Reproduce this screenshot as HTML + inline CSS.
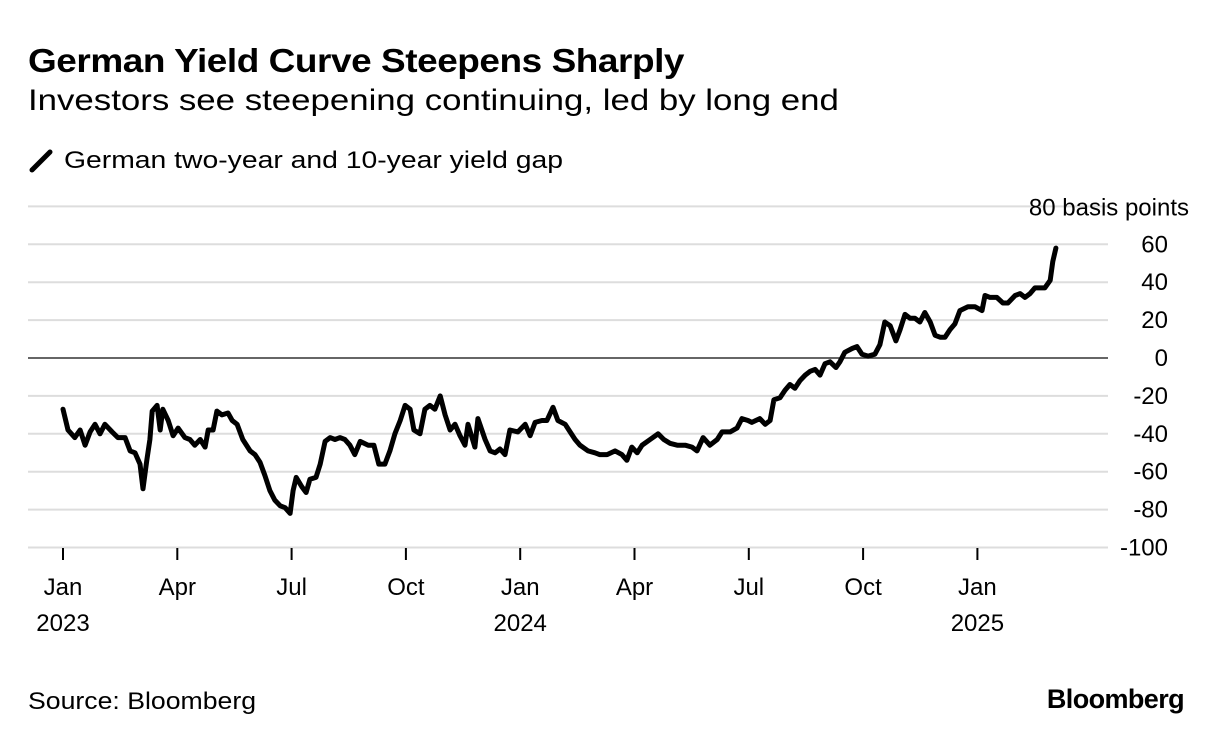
<!DOCTYPE html>
<html><head><meta charset="utf-8"><style>
body{margin:0;background:#fff;font-family:"Liberation Sans",Arial,sans-serif;color:#000}
#w{position:relative;width:1223px;height:744px;overflow:hidden}
.t{position:absolute;white-space:nowrap;transform-origin:0 0}
</style></head><body><div id="w">
<div class="t" style="left:28px;top:42px;font-size:33px;font-weight:bold;letter-spacing:-0.4px;transform:scaleX(1.12)">German Yield Curve Steepens Sharply</div>
<div class="t" style="left:28px;top:84px;font-size:29.5px;transform:scaleX(1.18)">Investors see steepening continuing, led by long end</div>
<div class="t" style="left:28px;top:148px"><svg width="26" height="26"><line x1="4" y1="22" x2="22" y2="4" stroke="#000" stroke-width="5" stroke-linecap="round"/></svg></div>
<div class="t" style="left:64px;top:147px;font-size:24px;transform:scaleX(1.18)">German two-year and 10-year yield gap</div>
<svg id="c" width="1223" height="744" style="position:absolute;left:0;top:0"></svg>
<div class="t" style="left:28px;top:688px;font-size:24px;transform:scaleX(1.11)">Source: Bloomberg</div>
<div class="t" style="right:39px;top:684px;font-size:27px;font-weight:bold;letter-spacing:-0.6px">Bloomberg</div>
</div>
<script>
const yTicks=[80,60,40,20,0,-20,-40,-60,-80,-100];
const xTickMonths=[0,3,6,9,12,15,18,21,24];
const xTickLabels=["Jan","Apr","Jul","Oct","Jan","Apr","Jul","Oct","Jan"];
const xYearLabels={0:"2023",12:"2024",24:"2025"};
const months=[0,.13,.31,.45,.58,.71,.84,.97,1.10,1.29,1.44,1.63,1.76,1.89,2.02,2.10,2.20,2.28,2.34,2.47,2.55,2.62,2.76,2.89,3.02,3.20,3.33,3.46,3.60,3.73,3.81,3.94,4.04,4.17,4.33,4.44,4.57,4.72,4.91,5.04,5.17,5.30,5.43,5.56,5.70,5.83,5.96,6.04,6.12,6.27,6.38,6.48,6.64,6.75,6.88,7.01,7.14,7.27,7.40,7.53,7.66,7.80,8.01,8.16,8.29,8.45,8.58,8.71,8.85,8.98,9.11,9.21,9.37,9.50,9.63,9.76,9.90,10.03,10.16,10.29,10.42,10.55,10.63,10.81,10.89,11.08,11.21,11.34,11.47,11.60,11.73,11.94,12.13,12.26,12.39,12.57,12.70,12.86,12.99,13.18,13.31,13.44,13.57,13.78,13.96,14.09,14.28,14.49,14.67,14.80,14.93,15.07,15.20,15.41,15.62,15.77,15.93,16.12,16.33,16.51,16.64,16.80,16.98,17.17,17.30,17.51,17.69,17.82,17.98,18.08,18.29,18.43,18.56,18.66,18.82,18.95,19.08,19.21,19.34,19.48,19.61,19.74,19.87,20.00,20.13,20.29,20.39,20.52,20.71,20.84,20.97,21.13,21.31,21.44,21.57,21.71,21.86,21.97,22.10,22.23,22.36,22.49,22.62,22.76,22.89,23.02,23.15,23.28,23.41,23.54,23.75,23.94,24.12,24.20,24.33,24.51,24.67,24.80,24.99,25.12,25.25,25.38,25.51,25.64,25.77,25.91,25.98,26.06];
const values=[-27,-38,-42,-38,-46,-39,-35,-40,-35,-39,-42,-42,-49,-50,-56,-69,-54,-43,-28,-25,-38,-27,-33,-41,-37,-42,-43,-46,-43,-47,-38,-38,-28,-30,-29,-33,-35,-43,-49,-51,-55,-62,-70,-75,-78,-79,-82,-70,-63,-68,-71,-64,-63,-56,-44,-42,-43,-42,-43,-46,-51,-44,-46,-46,-56,-56,-49,-40,-33,-25,-27,-38,-40,-27,-25,-27,-20,-30,-38,-35,-41,-46,-35,-47,-32,-43,-49,-50,-48,-51,-38,-39,-35,-41,-34,-33,-33,-26,-33,-35,-39,-43,-46,-49,-50,-51,-51,-49,-51,-54,-47,-50,-46,-43,-40,-43,-45,-46,-46,-47,-49,-42,-46,-43,-39,-39,-37,-32,-33,-34,-32,-35,-33,-22,-21,-17,-14,-16,-12,-9,-7,-6,-9,-3,-2,-5,-2,3,5,6,2,1,2,7,19,17,9,15,23,21,21,19,24,19,12,11,11,15,18,25,27,27,25,33,32,32,29,29,33,34,32,34,37,37,37,41,51,58];
const NS="http://www.w3.org/2000/svg";
const svg=document.getElementById('c');
const X=m=>63+m*38.1;
const Y=v=>358-v*1.895;
const FF='Liberation Sans, Arial, sans-serif';
function mk(tag,attrs){const e=document.createElementNS(NS,tag);for(const k in attrs)e.setAttribute(k,attrs[k]);svg.appendChild(e);return e;}
yTicks.forEach((v,i)=>{
  const l=mk('line',{x1:28,x2:1108,y1:Y(v),y2:Y(v),stroke:v===0?'#333':'#ddd','stroke-width':v===0?1.5:2});
  
  
  const t=mk('text',{x:1168,y:Y(v)+8,'text-anchor':'end','font-size':24,'font-family':FF});
  t.textContent=i===0?'':String(v);
  
  
});
const u=mk('text',{x:1189,y:Y(80)+9,'text-anchor':'end','font-size':24,'font-family':FF});
u.textContent=yTicks[0]+" basis points";


xTickMonths.forEach((m,i)=>{
  const tk=mk('line',{x1:X(m),x2:X(m),y1:548,y2:560,stroke:'#000','stroke-width':2});
  
  
  const t=mk('text',{x:X(m),y:595,'text-anchor':'middle','font-size':24,'font-family':FF});
  t.textContent=xTickLabels[i];
  
  
  if(xYearLabels[m]){
    const y=mk('text',{x:X(m),y:631,'text-anchor':'middle','font-size':24,'font-family':FF});
    y.textContent=xYearLabels[m];
    
    
  }
});
const d=months.map((m,i)=>(i?'L':'M')+X(m).toFixed(1)+','+Y(values[i]).toFixed(1)).join('');
const p=mk('path',{d:d,fill:'none',stroke:'#000','stroke-width':5,'stroke-linejoin':'round','stroke-linecap':'round'});


</script></body></html>
